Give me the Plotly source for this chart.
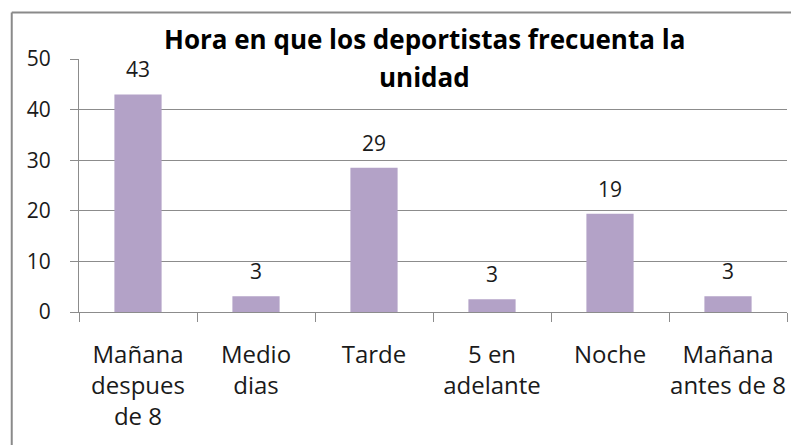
import plotly.graph_objects as go

categories = ["Mañana despues de 8", "Medio dias", "Tarde", "5 en adelante", "Noche", "Mañana antes de 8"]
tick_labels = ["Mañana<br>despues<br>de 8", "Medio<br>dias", "Tarde", "5 en<br>adelante", "Noche", "Mañana<br>antes de 8"]
values = [43, 3.1, 28.5, 2.5, 19.4, 3.1]
value_labels = ["43", "3", "29", "3", "19", "3"]
y_ticks = [0, 10, 20, 30, 40, 50]

title_lines = ["Hora en que los deportistas frecuenta la", "unidad"]

FONT = "Open Sans"
GRID = "#8c8c8c"
TXT = "#1a1a1a"
BAR = "#B3A2C7"

fig = go.Figure()
fig.add_trace(go.Bar(x=categories, y=values, marker=dict(color=BAR, line=dict(width=0)),
                     hoverinfo="skip"))

annotations = []
for c, v, t in zip(categories, values, value_labels):
    annotations.append(dict(x=c, y=v, xref="x", yref="y", text=t, showarrow=False,
                            yanchor="middle", yshift=25,
                            font=dict(family=FONT, size=21, color=TXT)))

title_y = [1.078, 0.928]
for line, yy in zip(title_lines, title_y):
    annotations.append(dict(x=0.488, y=yy, xref="paper", yref="paper", text="<b>" + line + "</b>",
                            showarrow=False, xanchor="center", yanchor="middle",
                            font=dict(family=FONT, size=26, color="#000000")))

fig.update_layout(
    width=799, height=445,
    margin=dict(l=71, r=20, t=51, b=141, autoexpand=False),
    paper_bgcolor="white", plot_bgcolor="white",
    showlegend=False,
    bargap=0.6,
    annotations=annotations,
    shapes=[
        dict(type="line", xref="paper", yref="paper", x0=-0.095, x1=-0.095, y0=1.184, y1=-0.6,
             line=dict(color="#8a8a8a", width=2)),
        dict(type="line", xref="paper", yref="paper", x0=-0.095, x1=1.2, y0=1.184, y1=1.184,
             line=dict(color="#8a8a8a", width=2)),
    ],
    xaxis=dict(
        tickmode="array", tickvals=categories, ticktext=tick_labels, tickangle=0,
        tickson="boundaries", ticks="outside", ticklen=9, tickcolor=GRID, tickwidth=1,
        showline=True, linecolor=GRID, linewidth=1, showgrid=False,
        tickfont=dict(family=FONT, size=24, color=TXT), ticklabelstandoff=21,
        automargin=False, fixedrange=True,
    ),
    yaxis=dict(
        range=[0, 50], tickmode="array", tickvals=y_ticks,
        ticks="outside", ticklen=8, tickcolor=GRID, tickwidth=1,
        showline=True, linecolor=GRID, linewidth=1,
        showgrid=True, gridcolor=GRID, gridwidth=1, zeroline=False,
        tickfont=dict(family=FONT, size=21, color=TXT), ticklabelstandoff=15,
        automargin=False, fixedrange=True,
    ),
)

fig.write_html("out.html", config={"displayModeBar": False})
